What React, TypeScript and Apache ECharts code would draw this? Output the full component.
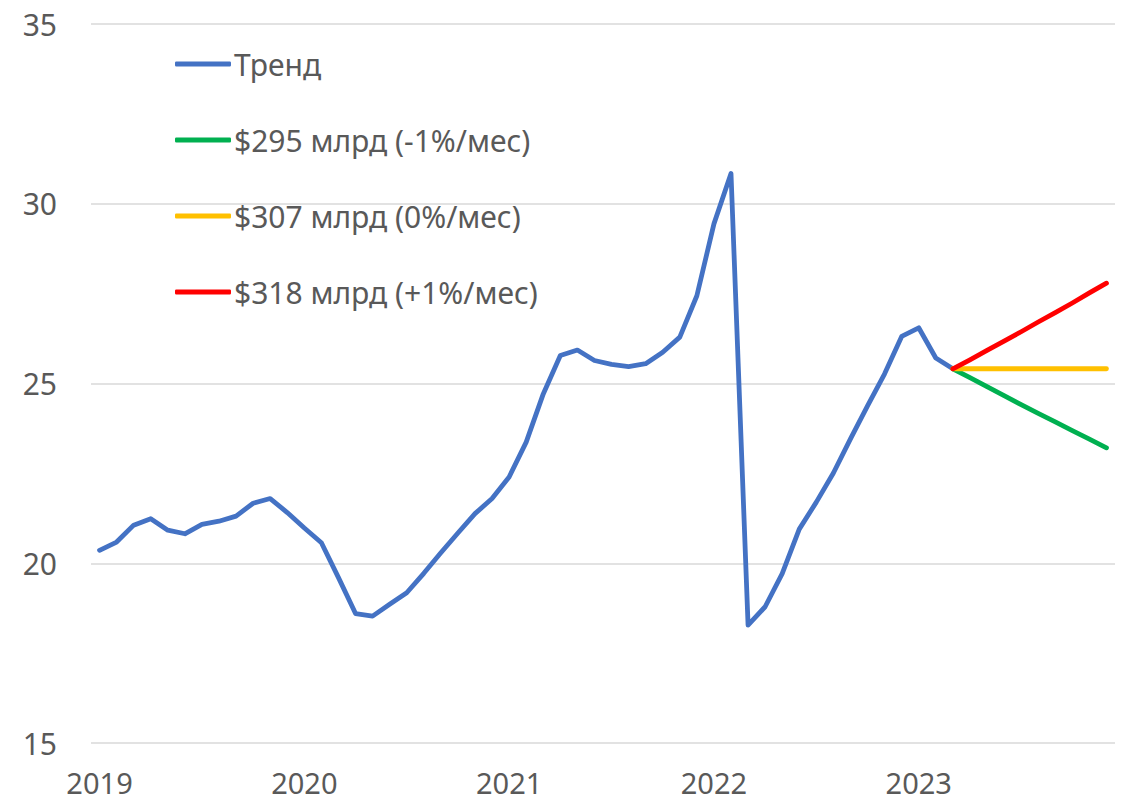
import React, { useEffect, useRef } from "react";
import * as echarts from "echarts";

const years = ["2019", "2020", "2021", "2022", "2023"];
const months = ["01", "02", "03", "04", "05", "06", "07", "08", "09", "10", "11", "12"];
const categories: string[] = years.flatMap((y) => months.map((m) => `${y}-${m}`));

const trend = [
  20.36, 20.59, 21.06, 21.24, 20.92, 20.82, 21.08, 21.17, 21.31, 21.67, 21.8, 21.41,
  20.98, 20.57, 19.6, 18.6, 18.53, 18.86, 19.18, 19.72, 20.29, 20.84, 21.38, 21.8,
  22.4, 23.37, 24.71, 25.78, 25.93, 25.64, 25.53, 25.47, 25.55, 25.87, 26.29, 27.44,
  29.44, 30.84, 18.28, 18.79, 19.71, 20.95, 21.7, 22.51, 23.46, 24.38, 25.27, 26.31,
  26.55, 25.71, 25.41,
];
const projStart = 50;
const scenarioMinus = [25.41, 25.16, 24.91, 24.66, 24.41, 24.17, 23.93, 23.69, 23.45, 23.21];
const scenarioZero = [25.41, 25.41, 25.41, 25.41, 25.41, 25.41, 25.41, 25.41, 25.41, 25.41];
const scenarioPlus = [25.41, 25.66, 25.92, 26.18, 26.44, 26.71, 26.97, 27.24, 27.52, 27.79];

const names = ["Тренд", "$295 млрд (-1%/мес)", "$307 млрд (0%/мес)", "$318 млрд (+1%/мес)"];
const colors = ["#4472C4", "#00B050", "#FFC000", "#FF0000"];

const pad = (arr: number[]) => (new Array(projStart).fill(null) as (number | null)[]).concat(arr);

export default function App() {
  const ref = useRef<HTMLDivElement>(null);
  useEffect(() => {
    if (!ref.current) return;
    const chart = echarts.init(ref.current, undefined, { renderer: "svg" });
    const font = "Noto Sans";
    const lineSeries = (name: string, data: (number | null)[], color: string) => ({
      name,
      type: "line",
      data,
      symbol: "none",
      connectNulls: false,
      lineStyle: { color, width: 4.8, cap: "round", join: "round" },
      itemStyle: { color },
    });
    chart.setOption({
      animation: false,
      backgroundColor: "#ffffff",
      textStyle: { fontFamily: font },
      grid: { left: 91, right: 15, top: 24, bottom: 60 },
      legend: {
        orient: "vertical",
        left: 175,
        top: 49,
        padding: 0,
        itemWidth: 56,
        itemHeight: 5,
        itemGap: 46,
        icon: "roundRect",
        data: names,
        textStyle: { fontFamily: font, fontSize: 30, color: "#595959", lineHeight: 30, padding: [0, 0, 0, -2] },
      },
      xAxis: {
        type: "category",
        data: categories,
        boundaryGap: true,
        axisLine: { show: false },
        axisTick: { show: false },
        axisLabel: {
          interval: 11,
          formatter: (v: string) => v.slice(0, 4),
          fontFamily: font,
          fontSize: 29,
          lineHeight: 29,
          color: "#595959",
          margin: 25,
        },
      },
      yAxis: {
        type: "value",
        min: 15,
        max: 35,
        interval: 5,
        axisLine: { show: false },
        axisTick: { show: false },
        splitLine: { lineStyle: { color: "#D9D9D9", width: 1.5 } },
        axisLabel: { fontFamily: font, fontSize: 30, color: "#595959", margin: 34 },
      },
      series: [
        lineSeries(names[0], trend, colors[0]),
        lineSeries(names[1], pad(scenarioMinus), colors[1]),
        lineSeries(names[2], pad(scenarioZero), colors[2]),
        lineSeries(names[3], pad(scenarioPlus), colors[3]),
      ],
    });
    return () => chart.dispose();
  }, []);
  return (
    <div
      ref={ref}
      style={{ position: "fixed", left: 0, top: 0, width: 1130, height: 803 }}
    />
  );
}
